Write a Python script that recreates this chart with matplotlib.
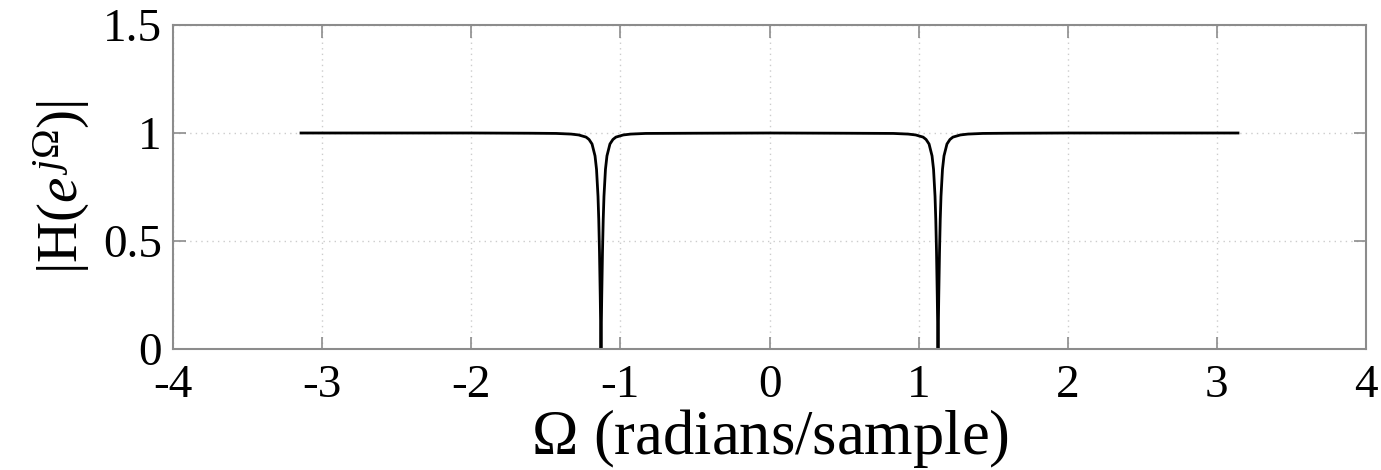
import matplotlib
matplotlib.use("Agg")
import matplotlib.pyplot as plt

# Frequency (rad/sample) and magnitude
omega = [-3.1416, -2.50, -2.00, -1.60, -1.43, -1.33, -1.28, -1.23, -1.21,
         -1.19, -1.17, -1.16, -1.15, -1.145, -1.14, -1.135, -1.13,
         -1.125, -1.12, -1.115, -1.11, -1.10, -1.09, -1.07, -1.05,
         -1.03, -0.98, -0.93, -0.83, -0.50, 0.0, 0.50, 0.83, 0.93, 0.98,
         1.03, 1.05, 1.07, 1.09, 1.10, 1.11, 1.115, 1.12, 1.125, 1.13,
         1.135, 1.14, 1.145, 1.15, 1.16, 1.17, 1.19, 1.21, 1.23, 1.28,
         1.33, 1.43, 1.60, 2.00, 2.50, 3.1416]
magnitude = [1.0, 1.0, 1.0, 0.999, 0.998, 0.995, 0.991, 0.981, 0.970,
             0.949, 0.894, 0.832, 0.707, 0.600, 0.447, 0.243, 0.0,
             0.243, 0.447, 0.600, 0.707, 0.832, 0.894, 0.949, 0.970,
             0.981, 0.991, 0.995, 0.998, 0.999, 1.0, 0.999, 0.998, 0.995, 0.991,
             0.981, 0.970, 0.949, 0.894, 0.832, 0.707, 0.600, 0.447, 0.243, 0.0,
             0.243, 0.447, 0.600, 0.707, 0.832, 0.894, 0.949, 0.970, 0.981, 0.991,
             0.995, 0.998, 0.999, 1.0, 1.0, 1.0]

xticks = [-4, -3, -2, -1, 0, 1, 2, 3, 4]
yticks = [0, 0.5, 1, 1.5]
ytick_labels = ["0", "0.5", "1", "1.5"]

plt.rcParams['font.family'] = ['Liberation Serif', 'DejaVu Serif']
plt.rcParams['mathtext.fontset'] = 'custom'
plt.rcParams['mathtext.rm'] = 'Liberation Serif'
plt.rcParams['mathtext.it'] = 'Liberation Serif:italic'

W, H = 1381, 470
fig = plt.figure(figsize=(W / 100, H / 100), dpi=100)
ax = fig.add_axes([173 / W, 1 - 349 / H, (1366 - 173) / W, (349 - 25) / H])

ax.plot(omega, magnitude, color='black', lw=2.0)
ax.set_xlim(-4, 4)
ax.set_ylim(0, 1.5)
ax.set_xticks(xticks)
ax.set_xticklabels([str(t) for t in xticks])
ax.set_yticks(yticks)
ax.set_yticklabels(ytick_labels)

axis_col = '0.55'
for s in ax.spines.values():
    s.set_color(axis_col)
    s.set_linewidth(1.5)
ax.tick_params(direction='in', length=9, width=1.2, color=axis_col,
               top=True, right=True, labelsize=34, labelcolor='black')
ax.tick_params(axis='x', pad=11)
ax.tick_params(axis='y', pad=8)
ax.grid(True, linestyle=(0, (1, 3)), color='0.8', lw=1.0)

ax.set_xlabel(r'$\Omega$ (radians/sample)', fontsize=45, labelpad=0)
ax.set_ylabel(r'|H($e^{\,j\Omega}$)|', fontsize=41, labelpad=8)

fig.savefig('out.png', dpi=100)
